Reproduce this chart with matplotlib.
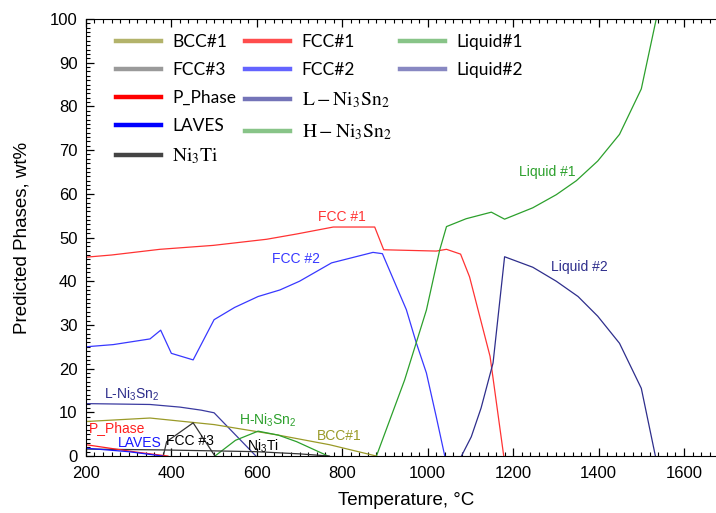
import matplotlib
matplotlib.use("Agg")
import matplotlib.pyplot as plt
from matplotlib.lines import Line2D
from matplotlib.ticker import MultipleLocator

plt.rcParams['font.family'] = ['Liberation Sans', 'DejaVu Sans']
plt.rcParams['mathtext.fontset'] = 'stix'

# ---- data (temperature in C, phase amount in wt%) ----
fcc1_T = [200, 260, 373, 498, 623, 693, 779, 876, 897, 1020, 1044, 1077, 1098, 1146, 1178]
fcc1 = [45.5, 46.0, 47.3, 48.2, 49.6, 50.8, 52.4, 52.4, 47.2, 46.9, 47.3, 46.2, 41.0, 22.8, 0]

fcc2_T = [200, 264, 350, 375, 400, 451, 500, 548, 603, 654, 700, 775, 872, 894, 950, 973, 997, 1020, 1040]
fcc2 = [25.0, 25.5, 26.8, 28.8, 23.5, 22.0, 31.2, 34.0, 36.5, 38.0, 40.0, 44.2, 46.6, 46.3, 33.5, 26.0, 19.0, 9.0, 0]

liq1_T = [880, 946, 997, 1028, 1044, 1090, 1149, 1180, 1246, 1301, 1348, 1398, 1449, 1500, 1535]
liq1 = [0, 17.4, 33.4, 47.1, 52.5, 54.3, 55.8, 54.2, 56.8, 59.8, 63.0, 67.5, 73.6, 84.0, 100]

liq2_T = [1079, 1102, 1125, 1153, 1180, 1246, 1301, 1352, 1398, 1449, 1500, 1533]
liq2 = [0, 4.4, 11.0, 21.3, 45.6, 43.2, 40.0, 36.5, 32.0, 25.8, 15.5, 0]

lni_T = [200, 350, 420, 470, 500, 598]
lni = [12.0, 11.8, 11.2, 10.5, 9.9, 0]

bcc_T = [200, 350, 500, 650, 770, 880]
bcc = [7.9, 8.7, 7.2, 4.8, 2.6, 0]

hni_T = [502, 550, 603, 650, 693, 767]
hni = [0, 3.6, 5.7, 4.8, 3.3, 0]

fcc3_T = [381, 389, 451, 502]
fcc3 = [0, 3.3, 7.6, 0]

ni3ti_T = [200, 380, 600, 700, 770]
ni3ti = [1.6, 1.4, 1.0, 0.5, 0]

pph_T = [200, 318, 392]
pph = [2.6, 0.9, 0]

laves_T = [200, 300, 380]
laves = [1.8, 1.0, 0]

# curve labels drawn on the plot
labels = [
    ('FCC #1', 799, 54.6, '#ff3333'),
    ('FCC #2', 691, 45.0, '#3838ff'),
    ('Liquid #1', 1281, 65.0, '#2ca02c'),
    ('Liquid #2', 1356, 43.2, '#2e2e8c'),
    (r'L-Ni$\mathregular{_3}$Sn$\mathregular{_2}$', 307, 14.2, '#2e2e8c'),
    ('P_Phase', 272, 6.4, '#ff2020'),
    ('LAVES', 326, 3.0, '#1a1aff'),
    ('FCC #3', 443, 3.5, 'black'),
    (r'H-Ni$\mathregular{_3}$Sn$\mathregular{_2}$', 625, 8.2, '#2ca02c'),
    (r'Ni$\mathregular{_3}$Ti', 614, 2.3, 'black'),
    ('BCC#1', 794, 4.6, '#9a9a28'),
]

# legend entries (column-wise, blanks pad columns)
legend_items = [
    ('BCC#1', '#b3b36b'), ('FCC#3', '#9a9a9a'), ('P_Phase', '#ff0000'),
    ('LAVES', '#0000ff'), (r'$\mathrm{Ni_3Ti}$', '#444444'),
    ('FCC#1', '#ff4d4d'), ('FCC#2', '#6464ff'), (r'$\mathrm{L} - \mathrm{Ni_3Sn_2}$', '#7474b8'),
    (r'$\mathrm{H} - \mathrm{Ni_3Sn_2}$', '#88c488'), (None, None),
    ('Liquid#1', '#88c488'), ('Liquid#2', '#8888c2'), (None, None), (None, None), (None, None),
]

fig = plt.figure(figsize=(7.16, 5.13), dpi=100)
ax = fig.add_axes([0.120, 0.111, 0.895, 0.852])

lw = 0.9
ax.plot(fcc1_T, fcc1, color='#ff3333', lw=lw)
ax.plot(fcc2_T, fcc2, color='#3838ff', lw=lw)
ax.plot(liq1_T, liq1, color='#2ca02c', lw=lw)
ax.plot(liq2_T, liq2, color='#2e2e8c', lw=lw)
ax.plot(lni_T, lni, color='#3a3aa0', lw=lw)
ax.plot(bcc_T, bcc, color='#9a9a28', lw=lw)
ax.plot(hni_T, hni, color='#2ca02c', lw=lw)
ax.plot(fcc3_T, fcc3, color='#333333', lw=lw)
ax.plot(ni3ti_T, ni3ti, color='#333333', lw=lw)
ax.plot(pph_T, pph, color='#ff2020', lw=lw)
ax.plot(laves_T, laves, color='#1a1aff', lw=lw)

for txt, x, y, c in labels:
    ax.text(x, y, txt, color=c, fontsize=10, ha='center', va='center')

ax.set_xlim(200, 1700)
ax.set_ylim(0, 100)
ax.xaxis.set_major_locator(MultipleLocator(200))
ax.xaxis.set_minor_locator(MultipleLocator(20))
ax.yaxis.set_major_locator(MultipleLocator(10))
ax.yaxis.set_minor_locator(MultipleLocator(1))
ax.tick_params(which='both', direction='in', top=True, right=True, labelsize=12)
ax.tick_params(which='major', length=6, width=0.9)
ax.tick_params(which='minor', length=3, width=0.8)
ax.tick_params(axis='x', pad=7)
ax.tick_params(axis='y', pad=6)

ax.set_xlabel('Temperature, °C', fontsize=13.5, labelpad=8)
ax.set_ylabel('Predicted Phases, wt%', fontsize=13.5, labelpad=14)

handles = []
names = []
for name, c in legend_items:
    if name is None:
        handles.append(Line2D([], [], color='none'))
        names.append('')
    else:
        handles.append(Line2D([], [], color=c, lw=3.2))
        names.append(name)

leg = ax.legend(handles, names, ncol=3, loc='upper left', bbox_to_anchor=(0.047, 0.966),
                frameon=False, prop={'family': 'Lato', 'size': 12.5},
                handlelength=2.6, handletextpad=0.65, columnspacing=0.5,
                labelspacing=0.7, borderpad=0, borderaxespad=0)
for t in leg.get_texts():
    if t.get_text().startswith('$'):
        t.set_fontsize(14)

fig.savefig('out.png', dpi=100)
